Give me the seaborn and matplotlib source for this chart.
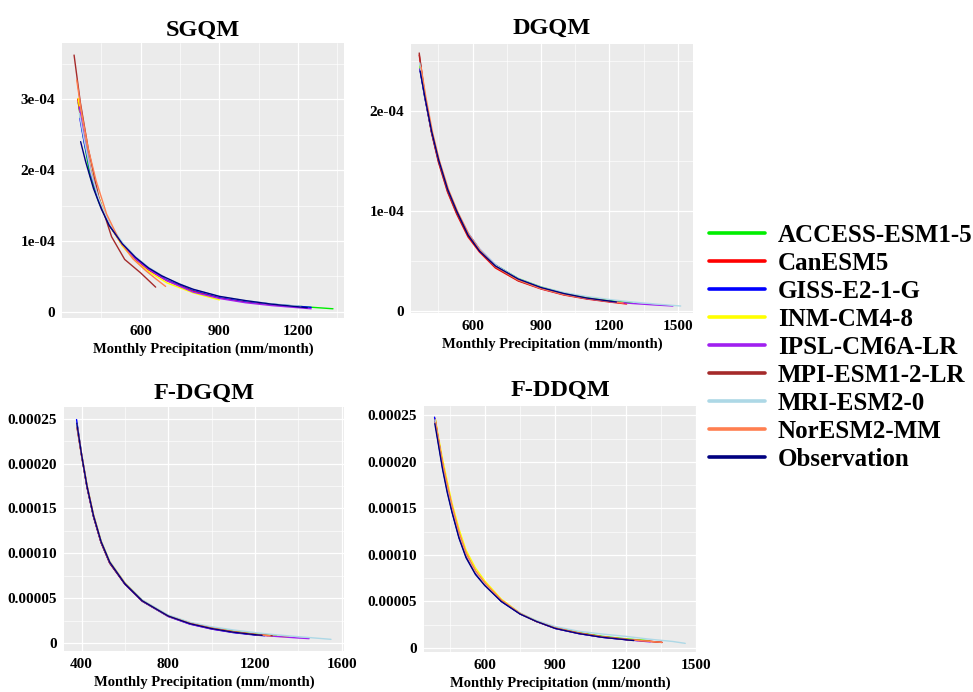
import numpy as np
import pandas as pd
import matplotlib
matplotlib.use("Agg")
import matplotlib.pyplot as plt
from matplotlib.lines import Line2D
from matplotlib.ticker import FuncFormatter, FixedLocator
import seaborn as sns

# ---------------- data (y values in units of 1e-4) ----------------
models = ["ACCESS-ESM1-5", "CanESM5", "GISS-E2-1-G", "INM-CM4-8", "IPSL-CM6A-LR",
          "MPI-ESM1-2-LR", "MRI-ESM2-0", "NorESM2-MM", "Observation"]
colors = ["#00EE00", "#FF0000", "#0000FF", "#FFFF00", "#A020F0",
          "#A52A2A", "#ADD8E6", "#FF7F50", "#000080"]
panel_titles = ["SGQM", "DGQM", "F-DGQM", "F-DDQM"]

sgqm_x = {
    "ACCESS-ESM1-5": [362, 380, 406, 440, 480, 530, 580, 630, 700, 800, 900, 1000, 1100, 1200, 1333],
    "CanESM5":       [360, 380, 410, 440, 480, 530, 580, 630, 700, 800, 900, 1000, 1150],
    "GISS-E2-1-G":   [368, 385, 410, 440, 480, 530, 580, 630, 700, 800, 900, 1000, 1100, 1250],
    "INM-CM4-8":     [362, 380, 410, 440, 480, 530, 580, 630, 700, 800, 900],
    "IPSL-CM6A-LR":  [366, 385, 410, 440, 480, 530, 580, 630, 700, 800, 900, 1000, 1100, 1250],
    "MPI-ESM1-2-LR": [346, 370, 400, 440, 489, 539, 600, 657],
    "MRI-ESM2-0":    [366, 385, 410, 440, 480, 530, 580, 630, 700, 800, 900, 1000, 1100, 1210],
    "NorESM2-MM":    [356, 375, 400, 430, 470, 520, 570, 620, 660, 695],
    "Observation":   [371, 390, 420, 450, 480, 530, 580, 630, 680, 750, 800, 900, 1000, 1100, 1235],
}
sgqm_y = {
    "ACCESS-ESM1-5": [2.95, 2.50, 1.93, 1.55, 1.22, 0.95, 0.76, 0.61, 0.46, 0.31, 0.21, 0.15, 0.11, 0.08, 0.045],
    "CanESM5":       [3.00, 2.55, 1.98, 1.60, 1.23, 0.94, 0.74, 0.59, 0.44, 0.29, 0.20, 0.14, 0.09],
    "GISS-E2-1-G":   [2.73, 2.38, 1.95, 1.58, 1.23, 0.96, 0.77, 0.62, 0.46, 0.31, 0.21, 0.15, 0.11, 0.065],
    "INM-CM4-8":     [3.01, 2.55, 2.00, 1.62, 1.24, 0.93, 0.72, 0.57, 0.41, 0.27, 0.17],
    "IPSL-CM6A-LR":  [2.89, 2.45, 1.98, 1.60, 1.23, 0.95, 0.75, 0.60, 0.44, 0.28, 0.19, 0.13, 0.09, 0.045],
    "MPI-ESM1-2-LR": [3.62, 2.95, 2.30, 1.62, 1.06, 0.74, 0.55, 0.35],
    "MRI-ESM2-0":    [2.80, 2.42, 1.97, 1.60, 1.25, 0.98, 0.78, 0.63, 0.47, 0.32, 0.22, 0.16, 0.115, 0.08],
    "NorESM2-MM":    [3.27, 2.80, 2.30, 1.85, 1.38, 1.00, 0.75, 0.58, 0.46, 0.36],
    "Observation":   [2.40, 2.12, 1.74, 1.45, 1.22, 0.96, 0.77, 0.62, 0.51, 0.39, 0.32, 0.22, 0.16, 0.11, 0.06],
}

dgqm_x = {
    "ACCESS-ESM1-5": [368, 390, 420, 450, 490, 530, 580, 630, 700, 800, 900, 1000, 1100, 1200, 1300],
    "CanESM5":       [366, 390, 420, 450, 490, 530, 580, 630, 700, 800, 900, 1000, 1100, 1200, 1275],
    "GISS-E2-1-G":   [369, 390, 420, 450, 490, 530, 580, 630, 700, 800, 900, 1000, 1100, 1240],
    "INM-CM4-8":     [370, 390, 420, 450, 490, 530, 580, 630, 700, 800, 900, 1000, 1100, 1200],
    "IPSL-CM6A-LR":  [370, 390, 420, 450, 490, 530, 580, 630, 700, 800, 900, 1000, 1100, 1200, 1300, 1400, 1478],
    "MPI-ESM1-2-LR": [366, 390, 420, 450, 490, 530, 580, 630, 700, 800, 900, 1000, 1100, 1200],
    "MRI-ESM2-0":    [368, 390, 420, 450, 490, 530, 580, 630, 700, 800, 900, 1000, 1100, 1200, 1300, 1400, 1512],
    "NorESM2-MM":    [374, 395, 425, 455, 495, 535, 585, 635, 700, 800, 900, 1000, 1100, 1200, 1260],
    "Observation":   [370, 390, 420, 450, 490, 530, 580, 630, 700, 800, 900, 1000, 1100, 1230],
}
dgqm_y = {
    "ACCESS-ESM1-5": [2.45, 2.14, 1.79, 1.51, 1.22, 1.00, 0.77, 0.61, 0.46, 0.325, 0.24, 0.18, 0.135, 0.105, 0.08],
    "CanESM5":       [2.56, 2.16, 1.78, 1.49, 1.19, 0.97, 0.74, 0.59, 0.43, 0.30, 0.22, 0.16, 0.12, 0.09, 0.07],
    "GISS-E2-1-G":   [2.42, 2.15, 1.80, 1.52, 1.22, 1.00, 0.78, 0.62, 0.46, 0.32, 0.23, 0.17, 0.125, 0.085],
    "INM-CM4-8":     [2.45, 2.17, 1.81, 1.52, 1.22, 1.00, 0.77, 0.61, 0.45, 0.32, 0.235, 0.175, 0.13, 0.10],
    "IPSL-CM6A-LR":  [2.42, 2.14, 1.79, 1.51, 1.21, 0.99, 0.77, 0.61, 0.45, 0.31, 0.225, 0.165, 0.125, 0.095, 0.075, 0.06, 0.05],
    "MPI-ESM1-2-LR": [2.58, 2.17, 1.79, 1.50, 1.20, 0.98, 0.75, 0.60, 0.44, 0.305, 0.225, 0.165, 0.125, 0.095],
    "MRI-ESM2-0":    [2.48, 2.17, 1.81, 1.53, 1.23, 1.01, 0.78, 0.62, 0.46, 0.325, 0.24, 0.185, 0.145, 0.115, 0.09, 0.07, 0.05],
    "NorESM2-MM":    [2.44, 2.14, 1.78, 1.50, 1.21, 0.99, 0.76, 0.60, 0.445, 0.31, 0.225, 0.165, 0.125, 0.095, 0.08],
    "Observation":   [2.40, 2.15, 1.80, 1.52, 1.22, 1.00, 0.76, 0.60, 0.45, 0.32, 0.235, 0.175, 0.13, 0.09],
}

fdgqm_x = {
    "ACCESS-ESM1-5": [380, 400, 425, 455, 490, 530, 600, 680, 800, 900, 1000, 1100, 1200, 1300],
    "CanESM5":       [380, 400, 425, 455, 490, 530, 600, 680, 800, 900, 1000, 1100, 1200, 1260],
    "GISS-E2-1-G":   [377, 400, 425, 455, 490, 530, 600, 680, 800, 900, 1000, 1100, 1200, 1245],
    "INM-CM4-8":     [379, 400, 425, 455, 490, 530, 600, 680, 800, 900, 1000, 1100, 1200, 1300, 1355],
    "IPSL-CM6A-LR":  [378, 400, 425, 455, 490, 530, 600, 680, 800, 900, 1000, 1100, 1200, 1300, 1400, 1450],
    "MPI-ESM1-2-LR": [379, 400, 425, 455, 490, 530, 600, 680, 800, 900, 1000, 1100, 1200, 1280],
    "MRI-ESM2-0":    [378, 400, 425, 455, 490, 530, 600, 680, 800, 900, 1000, 1100, 1200, 1300, 1400, 1551],
    "NorESM2-MM":    [381, 400, 425, 455, 490, 530, 600, 680, 800, 900, 1000, 1100, 1200, 1270],
    "Observation":   [378, 400, 425, 455, 490, 530, 600, 680, 800, 900, 1000, 1100, 1200, 1233],
}
fdgqm_y = {
    "ACCESS-ESM1-5": [2.42, 2.10, 1.75, 1.42, 1.13, 0.90, 0.665, 0.475, 0.305, 0.225, 0.17, 0.13, 0.10, 0.08],
    "CanESM5":       [2.40, 2.09, 1.74, 1.41, 1.12, 0.89, 0.655, 0.465, 0.30, 0.215, 0.16, 0.12, 0.092, 0.082],
    "GISS-E2-1-G":   [2.49, 2.10, 1.74, 1.41, 1.12, 0.89, 0.655, 0.465, 0.295, 0.21, 0.155, 0.115, 0.088, 0.08],
    "INM-CM4-8":     [2.42, 2.10, 1.76, 1.43, 1.14, 0.91, 0.67, 0.475, 0.30, 0.22, 0.165, 0.125, 0.098, 0.075, 0.065],
    "IPSL-CM6A-LR":  [2.44, 2.10, 1.75, 1.42, 1.13, 0.90, 0.66, 0.47, 0.295, 0.21, 0.155, 0.118, 0.092, 0.072, 0.055, 0.048],
    "MPI-ESM1-2-LR": [2.40, 2.09, 1.74, 1.41, 1.12, 0.89, 0.66, 0.47, 0.30, 0.22, 0.165, 0.125, 0.095, 0.08],
    "MRI-ESM2-0":    [2.44, 2.11, 1.76, 1.43, 1.14, 0.91, 0.67, 0.48, 0.31, 0.23, 0.18, 0.145, 0.115, 0.09, 0.07, 0.04],
    "NorESM2-MM":    [2.40, 2.11, 1.76, 1.43, 1.13, 0.90, 0.665, 0.47, 0.30, 0.22, 0.165, 0.125, 0.095, 0.08],
    "Observation":   [2.45, 2.10, 1.75, 1.42, 1.13, 0.90, 0.66, 0.47, 0.30, 0.215, 0.16, 0.12, 0.092, 0.085],
}

fddqm_x = {
    "ACCESS-ESM1-5": [388, 400, 420, 440, 460, 490, 520, 560, 600, 670, 750, 820, 900, 1000, 1100, 1200, 1300],
    "CanESM5":       [389, 400, 420, 440, 460, 490, 520, 560, 600, 670, 750, 820, 900, 1000, 1100, 1200, 1300, 1354],
    "GISS-E2-1-G":   [386, 400, 420, 440, 460, 490, 520, 560, 600, 670, 750, 820, 900, 1000, 1100, 1200, 1250],
    "INM-CM4-8":     [390, 400, 420, 440, 460, 490, 520, 560, 600, 670, 750, 820, 900, 1000, 1100, 1200, 1300],
    "IPSL-CM6A-LR":  [388, 400, 420, 440, 460, 490, 520, 560, 600, 670, 750, 820, 900, 1000, 1100, 1200, 1304],
    "MPI-ESM1-2-LR": [389, 400, 420, 440, 460, 490, 520, 560, 600, 670, 750, 820, 900, 1000, 1100, 1200, 1300, 1354],
    "MRI-ESM2-0":    [388, 400, 420, 440, 460, 490, 520, 560, 600, 670, 750, 820, 900, 1000, 1100, 1200, 1300, 1400, 1453],
    "NorESM2-MM":    [390, 400, 420, 440, 460, 490, 520, 560, 600, 670, 750, 820, 900, 1000, 1100, 1200, 1300, 1354],
    "Observation":   [387, 400, 420, 440, 460, 490, 520, 560, 600, 670, 750, 820, 900, 1000, 1100, 1234],
}
fddqm_y = {
    "ACCESS-ESM1-5": [2.45, 2.26, 1.97, 1.73, 1.51, 1.23, 1.01, 0.82, 0.69, 0.51, 0.37, 0.29, 0.22, 0.165, 0.125, 0.098, 0.078],
    "CanESM5":       [2.46, 2.28, 1.99, 1.74, 1.52, 1.23, 1.01, 0.82, 0.69, 0.51, 0.37, 0.285, 0.215, 0.16, 0.12, 0.092, 0.072, 0.06],
    "GISS-E2-1-G":   [2.48, 2.24, 1.94, 1.69, 1.47, 1.19, 0.98, 0.80, 0.68, 0.50, 0.365, 0.285, 0.21, 0.155, 0.115, 0.09, 0.08],
    "INM-CM4-8":     [2.45, 2.30, 2.03, 1.79, 1.56, 1.28, 1.05, 0.86, 0.72, 0.525, 0.375, 0.29, 0.215, 0.16, 0.12, 0.095, 0.075],
    "IPSL-CM6A-LR":  [2.44, 2.26, 1.97, 1.73, 1.51, 1.23, 1.01, 0.82, 0.69, 0.51, 0.37, 0.285, 0.21, 0.155, 0.115, 0.09, 0.065],
    "MPI-ESM1-2-LR": [2.44, 2.27, 1.98, 1.73, 1.51, 1.22, 1.00, 0.82, 0.69, 0.51, 0.37, 0.285, 0.215, 0.16, 0.12, 0.092, 0.072, 0.06],
    "MRI-ESM2-0":    [2.45, 2.26, 1.97, 1.73, 1.51, 1.23, 1.01, 0.82, 0.69, 0.51, 0.375, 0.295, 0.23, 0.18, 0.15, 0.125, 0.095, 0.07, 0.05],
    "NorESM2-MM":    [2.42, 2.27, 1.99, 1.75, 1.53, 1.24, 1.02, 0.83, 0.70, 0.515, 0.37, 0.285, 0.215, 0.16, 0.12, 0.092, 0.072, 0.06],
    "Observation":   [2.41, 2.22, 1.92, 1.67, 1.46, 1.18, 0.97, 0.79, 0.67, 0.50, 0.365, 0.285, 0.21, 0.155, 0.115, 0.08],
}

panel_x = [sgqm_x, dgqm_x, fdgqm_x, fddqm_x]
panel_y = [sgqm_y, dgqm_y, fdgqm_y, fddqm_y]

# ---------------- styling ----------------
sns.set_theme(style="darkgrid")
plt.rcParams["font.family"] = ["Liberation Serif", "DejaVu Serif"]
plt.rcParams["font.weight"] = "bold"
plt.rcParams["text.color"] = "black"
plt.rcParams["axes.labelcolor"] = "black"
plt.rcParams["xtick.color"] = "black"
plt.rcParams["ytick.color"] = "black"

fig = plt.figure(figsize=(9.73, 6.92), dpi=100)
W, H = 973.0, 692.0

def px_axes(left, top, right, bottom):
    return fig.add_axes([left / W, 1 - bottom / H, (right - left) / W, (bottom - top) / H])

axes_px = [(62, 43, 344, 318), (411, 44, 693, 313), (64, 407, 344, 651), (424, 406, 697, 652)]
xlims = [(300, 1375), (330, 1566), (319, 1611), (341, 1503)]
ylims = [(-0.085e-4, 3.79e-4), (-0.02e-4, 2.67e-4), (-0.09e-4, 2.63e-4), (-0.043e-4, 2.60e-4)]
xmajor = [[600, 900, 1200], [600, 900, 1200, 1500], [400, 800, 1200, 1600], [600, 900, 1200, 1500]]
xminor = [[450, 750, 1050, 1350], [450, 750, 1050, 1350], [600, 1000, 1400], [450, 750, 1050, 1350]]
ymajor = [[0, 1e-4, 2e-4, 3e-4], [0, 1e-4, 2e-4],
          [0, 0.5e-4, 1e-4, 1.5e-4, 2e-4, 2.5e-4], [0, 0.5e-4, 1e-4, 1.5e-4, 2e-4, 2.5e-4]]
yminor = [[0.5e-4, 1.5e-4, 2.5e-4, 3.5e-4], [0.5e-4, 1.5e-4, 2.5e-4],
          [0.25e-4, 0.75e-4, 1.25e-4, 1.75e-4, 2.25e-4], [0.25e-4, 0.75e-4, 1.25e-4, 1.75e-4, 2.25e-4]]
title_pads = [5.5, 7.5, 6.0, 7.5]

fmt_sci = FuncFormatter(lambda v, p: "0" if abs(v) < 1e-12 else "%.0e" % v)
fmt_dec = FuncFormatter(lambda v, p: "0" if abs(v) < 1e-12 else "%.5f" % v)

palette = dict(zip(models, colors))

for i in range(4):
    ax = px_axes(*axes_px[i])
    rows = []
    for m in models:
        for xv, yv in zip(panel_x[i][m], panel_y[i][m]):
            rows.append((m, xv, yv * 1e-4))
    df = pd.DataFrame(rows, columns=["model", "x", "y"])
    sns.lineplot(data=df, x="x", y="y", hue="model", hue_order=models, palette=palette,
                 estimator=None, sort=False, linewidth=1.0, legend=False, ax=ax)
    ax.set_facecolor("#EBEBEB")
    for s in ax.spines.values():
        s.set_visible(False)
    ax.set_xlim(*xlims[i])
    ax.set_ylim(*ylims[i])
    ax.xaxis.set_major_locator(FixedLocator(xmajor[i]))
    ax.xaxis.set_minor_locator(FixedLocator(xminor[i]))
    ax.yaxis.set_major_locator(FixedLocator(ymajor[i]))
    ax.yaxis.set_minor_locator(FixedLocator(yminor[i]))
    ax.yaxis.set_major_formatter(fmt_sci if i < 2 else fmt_dec)
    ax.grid(which="major", color="white", linewidth=0.9)
    ax.grid(which="minor", color="white", linewidth=0.45)
    ax.set_axisbelow(True)
    ax.tick_params(axis="both", which="major", length=2.0, width=0.6, color="#333333",
                   labelsize=11, labelcolor="black", pad=3)
    ax.tick_params(axis="both", which="minor", length=0)
    for lab in ax.get_xticklabels() + ax.get_yticklabels():
        lab.set_fontweight("bold")
        lab.set_color("black")
    ax.set_xlabel("Monthly Precipitation (mm/month)", fontsize=10.5, fontweight="bold",
                  labelpad=3, color="black")
    ax.set_ylabel("")
    ax.set_title(panel_titles[i], fontsize=17.5, fontweight="bold", pad=title_pads[i], color="black")

handles = [Line2D([0], [0], color=c, linewidth=2.6) for c in colors]
leg = fig.legend(handles, models, loc="upper left", bbox_to_anchor=(709 / W, 1 - 224 / H),
                 frameon=False, prop={"family": "Liberation Serif", "weight": "bold", "size": 18},
                 handlelength=2.25, handletextpad=0.5, labelspacing=0.2, borderaxespad=0, borderpad=0)
for t in leg.get_texts():
    t.set_color("black")

fig.savefig("out.png", dpi=100)
